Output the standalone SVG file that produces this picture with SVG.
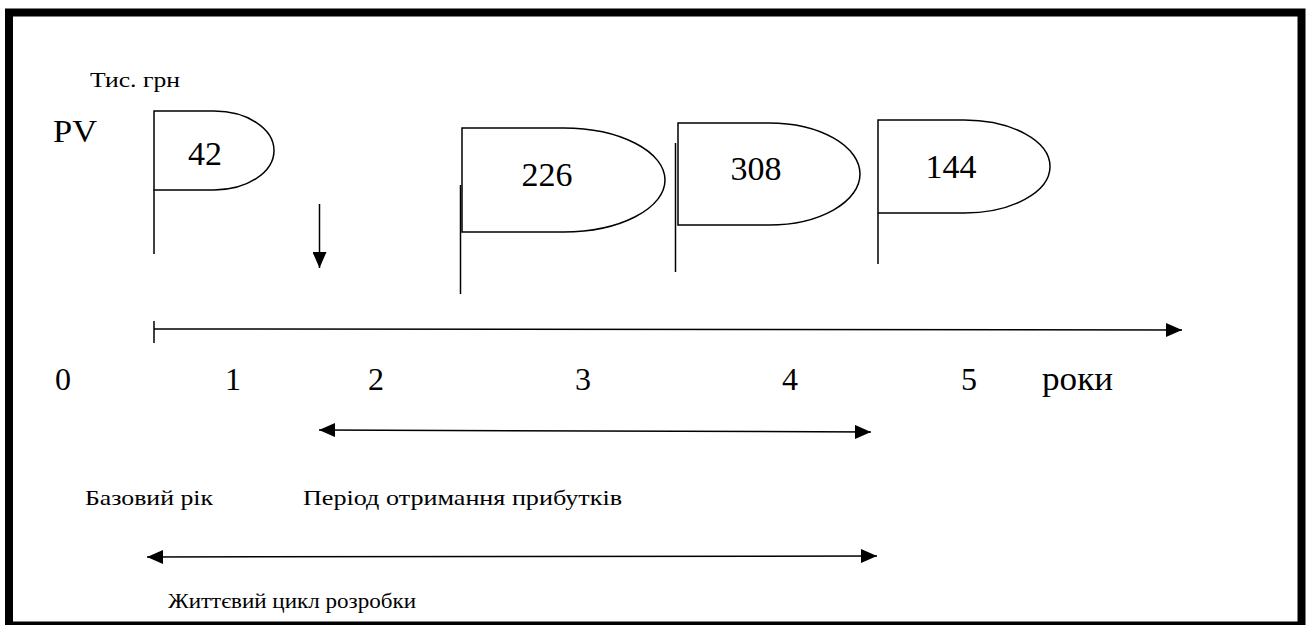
<svg xmlns="http://www.w3.org/2000/svg" width="1312" height="625" viewBox="0 0 1312 625">
  <style>
    text { font-family: 'Liberation Serif', 'DejaVu Serif', 'Times New Roman', serif; fill: #000; }
    .flag { fill: #fff; stroke: #000; stroke-width: 1.5; }
    .pole { stroke: #000; stroke-width: 1.5; fill: none; }
    .conn { stroke: #000; stroke-width: 1.5; fill: none; }
  </style>
  <defs>
    <marker id="ah" markerUnits="userSpaceOnUse" markerWidth="16" markerHeight="14" viewBox="0 0 16 14" refX="16" refY="7" orient="auto-start-reverse">
      <path d="M0,0 L16,7 L0,14 Z" fill="#000"/>
    </marker>
  </defs>

  <rect x="0" y="0" width="1312" height="625" fill="#fff"/>
  <rect id="frame" x="9" y="12.5" width="1292.5" height="613" fill="none" stroke="#000" stroke-width="8"/>

  <g id="labels-axis" font-family="Liberation Serif, DejaVu Serif, serif">
    <text x="90" y="87" font-size="22" textLength="90" lengthAdjust="spacingAndGlyphs">Тис. грн</text>
    <text x="53" y="142" font-size="31" textLength="44" lengthAdjust="spacingAndGlyphs">PV</text>
  </g>

  <g id="flag-42" font-family="Liberation Serif, DejaVu Serif, serif">
    <path class="flag" d="M154,111 H214 A60,39.5 0 0 1 214,190 H154 Z"/>
    <line class="pole" x1="154" y1="190" x2="154" y2="254"/>
    <text x="205" y="165" font-size="34" text-anchor="middle">42</text>
  </g>

  <g id="flag-226" font-family="Liberation Serif, DejaVu Serif, serif">
    <path class="flag" d="M462,128 H563.5 A101.5,52 0 0 1 563.5,232 H462 Z"/>
    <line class="pole" x1="460.5" y1="185" x2="460.5" y2="294"/>
    <text x="547" y="186" font-size="34" text-anchor="middle">226</text>
  </g>

  <g id="flag-308" font-family="Liberation Serif, DejaVu Serif, serif">
    <path class="flag" d="M678,123 H769 A91,51 0 0 1 769,225 H678 Z"/>
    <line class="pole" x1="675.5" y1="143" x2="675.5" y2="272"/>
    <text x="756" y="180" font-size="34" text-anchor="middle">308</text>
  </g>

  <g id="flag-144" font-family="Liberation Serif, DejaVu Serif, serif">
    <path class="flag" d="M878,120 H964 A86,46.5 0 0 1 964,213 H878 Z"/>
    <line class="pole" x1="878" y1="213" x2="878" y2="264"/>
    <text x="951" y="178" font-size="34" text-anchor="middle">144</text>
  </g>

  <g id="connectors">
    <line class="conn" x1="319.5" y1="204" x2="319.5" y2="268" marker-end="url(#ah)"/>
    <line class="conn" x1="154" y1="329" x2="1182" y2="330" marker-end="url(#ah)"/>
    <line class="conn" x1="154" y1="321" x2="154" y2="343"/>
    <line class="conn" x1="319" y1="430" x2="871" y2="432" marker-start="url(#ah)" marker-end="url(#ah)"/>
    <line class="conn" x1="147" y1="557" x2="877" y2="556" marker-start="url(#ah)" marker-end="url(#ah)"/>
  </g>

  <g id="year-labels" font-family="Liberation Serif, DejaVu Serif, serif">
    <text x="63" y="390" font-size="32" text-anchor="middle">0</text>
    <text x="233" y="390" font-size="32" text-anchor="middle">1</text>
    <text x="376" y="390" font-size="32" text-anchor="middle">2</text>
    <text x="583" y="390" font-size="32" text-anchor="middle">3</text>
    <text x="790" y="390" font-size="32" text-anchor="middle">4</text>
    <text x="969" y="390" font-size="32" text-anchor="middle">5</text>
    <text x="1042" y="390" font-size="34" textLength="71" lengthAdjust="spacingAndGlyphs">роки</text>
  </g>

  <g id="period-labels" font-family="Liberation Serif, DejaVu Serif, serif">
    <text x="85" y="505" font-size="22" textLength="128" lengthAdjust="spacingAndGlyphs">Базовий рік</text>
    <text x="303" y="505" font-size="22" textLength="319" lengthAdjust="spacingAndGlyphs">Період отримання прибутків</text>
    <text x="168" y="608" font-size="22" textLength="248" lengthAdjust="spacingAndGlyphs">Життєвий цикл розробки</text>
  </g>
</svg>
